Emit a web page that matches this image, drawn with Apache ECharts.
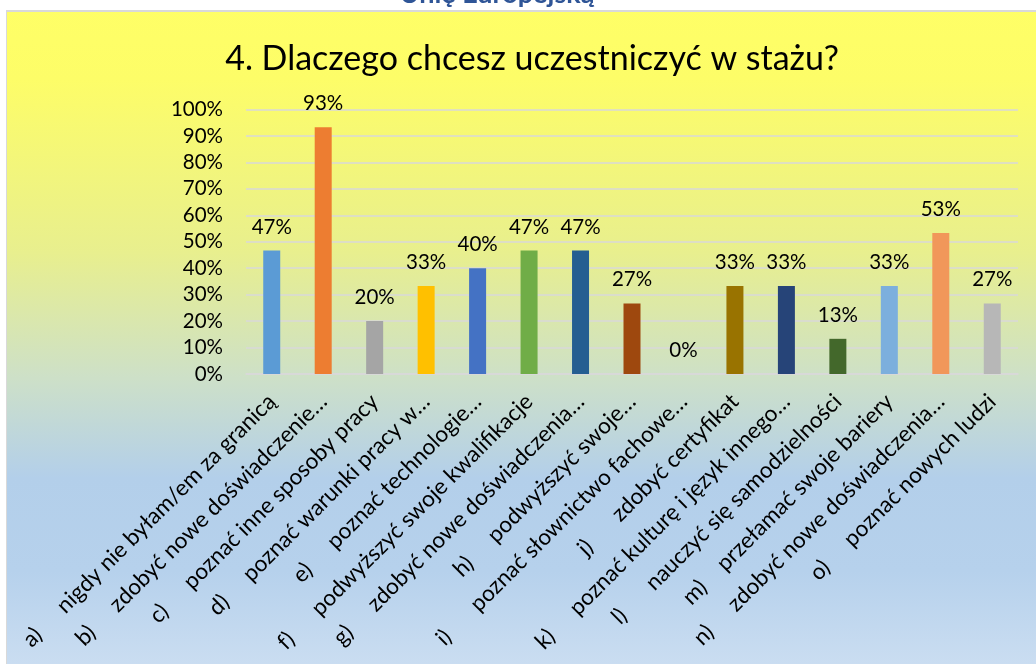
<!DOCTYPE html>
<html>
<head>
<meta charset="utf-8">
<script src="https://cdn.jsdelivr.net/npm/echarts@6/dist/echarts.min.js"></script>
<style>
  html, body { margin: 0; padding: 0; background: #fff; }
  #main { width: 1036px; height: 664px; }
</style>
</head>
<body>
<div id="main"></div>
<script>
const letters = ['a)', 'b)', 'c)', 'd)', 'e)', 'f)', 'g)', 'h)', 'i)', 'j)', 'k)', 'l)', 'm)', 'n)', 'o)']
const reasons = [
  'nigdy nie byłam/em za granicą',
  'zdobyć nowe doświadczenie…',
  'poznać inne sposoby pracy',
  'poznać warunki pracy w…',
  'poznać technologie…',
  'podwyższyć swoje kwalifikacje',
  'zdobyć nowe doświadczenia…',
  'podwyższyć swoje…',
  'poznać słownictwo fachowe…',
  'zdobyć certyfikat',
  'poznać kulturę i język innego…',
  'nauczyć się samodzielności',
  'przełamać swoje bariery',
  'zdobyć nowe doświadczenia…',
  'poznać nowych ludzi',
]
const shares = [46.7, 93.3, 20, 33.3, 40, 46.7, 46.7, 26.7, 0, 33.3, 33.3, 13.3, 33.3, 53.3, 26.7]
const barColors = [
  '#5B9BD5', '#ED7D31', '#A5A5A5', '#FFC000', '#4472C4',
  '#70AD47', '#255E91', '#9E480E', '#636363', '#997300',
  '#264478', '#43682B', '#7CAFDD', '#F1975A', '#B7B7B7',
]

const categories = letters.map((l, i) => l + '\t' + reasons[i])
const font = 'Lato, "Open Sans", sans-serif'
const catFontSize = 22.5
const tabStop = 48

// the letter + tab occupies a fixed width, like a tab stop
const measureCtx = document.createElement('canvas').getContext('2d')
measureCtx.font = catFontSize + 'px Lato'
function prefixPad(s) {
  return Math.max(4, tabStop - measureCtx.measureText(s).width)
}

const chart = echarts.init(document.getElementById('main'))
chart.setOption({
  backgroundColor: new echarts.graphic.LinearGradient(0, 0, 0, 1, [
    { offset: 0, color: '#FFFF66' },
    { offset: 0.12, color: '#FDFD68' },
    { offset: 0.38, color: '#E8EF8E' },
    { offset: 0.57, color: '#CDE0C8' },
    { offset: 0.72, color: '#B3CFEA' },
    { offset: 0.86, color: '#B6D1EC' },
    { offset: 1, color: '#CADDF1' },
  ]),
  animation: false,
  title: {
    text: '4. Dlaczego chcesz uczestniczyć w stażu?',
    left: 527,
    top: 37,
    textAlign: 'center',
    textStyle: {
      fontFamily: font,
      fontWeight: 'normal',
      fontSize: 34,
      color: '#000',
    },
  },
  graphic: [
    { type: 'rect', shape: { x: 0, y: 0, width: 1036, height: 10 }, style: { fill: '#fff' }, z: 10 },
    { type: 'rect', shape: { x: 0, y: 0, width: 6, height: 664 }, style: { fill: '#fff' }, z: 10 },
    { type: 'rect', shape: { x: 6, y: 10, width: 1030, height: 2 }, style: { fill: '#D9D9D9' }, z: 11 },
    { type: 'rect', shape: { x: 6, y: 10, width: 1, height: 654 }, style: { fill: '#D9D9D9' }, z: 11 },
    {
      type: 'text',
      x: 497,
      y: 8,
      z: 12,
      style: {
        text: 'Unię Europejską',
        fill: '#2F5597',
        font: 'bold 27px Lato, sans-serif',
        align: 'center',
        verticalAlign: 'bottom',
      },
    },
  ],
  grid: {
    left: 246,
    right: 18,
    top: 109.5,
    bottom: 290,
  },
  xAxis: {
    type: 'category',
    data: categories,
    axisTick: { show: false },
    axisLine: { lineStyle: { color: '#D9D9D9', width: 1.5 } },
    axisLabel: {
      interval: 0,
      rotate: 45,
      margin: 24,
      color: '#000',
      fontFamily: font,
      fontSize: catFontSize,
      formatter: (v) => {
        const parts = v.split('\t')
        return '{p' + categories.indexOf(v) + '|' + parts[0] + '}{t|' + parts[1] + '}'
      },
      rich: Object.assign(
        { t: { fontFamily: font, fontSize: catFontSize, color: '#000' } },
        ...letters.map((l, i) => ({
          ['p' + i]: {
            fontFamily: font,
            fontSize: catFontSize,
            color: '#000',
            padding: [0, prefixPad(l), 0, 0],
          },
        }))
      ),
    },
  },
  yAxis: {
    type: 'value',
    min: 0,
    max: 100,
    interval: 10,
    axisLine: { show: false },
    axisTick: { show: false },
    axisLabel: {
      margin: 23,
      color: '#000',
      fontFamily: font,
      fontSize: 20.5,
      formatter: '{value}%',
    },
    splitLine: { lineStyle: { color: '#D9D9D9', width: 1.5 } },
  },
  series: [
    {
      type: 'bar',
      barWidth: 17,
      data: shares.map((v, i) => ({ value: v, itemStyle: { color: barColors[i] } })),
      label: {
        show: true,
        position: 'top',
        distance: 13,
        color: '#000',
        fontFamily: font,
        fontSize: 20.5,
        formatter: (p) => Math.round(p.value) + '%',
      },
    },
  ],
})
</script>
</body>
</html>
